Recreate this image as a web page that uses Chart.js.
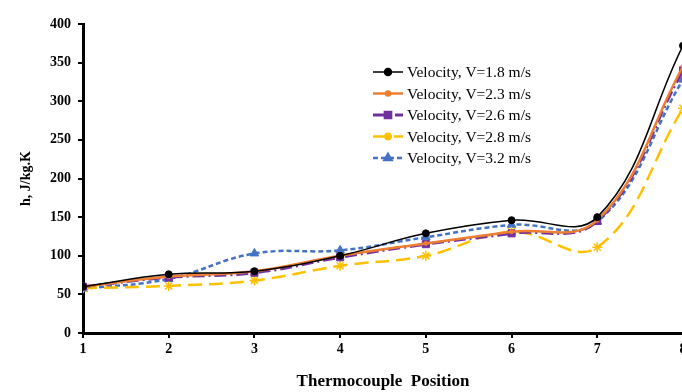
<!DOCTYPE html>
<html>
<head>
<meta charset="utf-8">
<script src="https://cdn.jsdelivr.net/npm/chart.js@4"></script>
<style>
  html, body { margin: 0; padding: 0; background: #fff; overflow: hidden; }
  #wrap { width: 682px; height: 392px; overflow: hidden; }
</style>
</head>
<body>
<div id="wrap"><canvas id="chart" width="690" height="392"></canvas></div>
<script>
const positions = [1, 2, 3, 4, 5, 6, 7, 8];
const seriesNames = ['Velocity, V=1.8 m/s', 'Velocity, V=2.3 m/s', 'Velocity, V=2.6 m/s', 'Velocity, V=2.8 m/s', 'Velocity, V=3.2 m/s'];
const v18 = [60, 76, 80, 100, 129, 146, 150, 372];
const v23 = [60, 73, 80, 100, 116, 131, 146, 345];
const v26 = [60, 72, 78, 98, 115, 129, 145, 340];
const v28 = [58, 61, 68, 87, 100, 131, 111, 291];
const v32 = [57, 70, 103, 107, 124, 140, 144, 328];
const yTicks = [0, 50, 100, 150, 200, 250, 300, 350, 400];

const serif = "'Liberation Serif', 'Times New Roman', serif";

function toXY(vals) {
  return vals.map((v, i) => ({ x: positions[i], y: v }));
}

function makeSet(label, vals, color, width, dash, style, radius) {
  return {
    label: label,
    data: toXY(vals),
    borderColor: color,
    backgroundColor: color,
    borderWidth: width,
    borderDash: dash,
    pointStyle: style,
    pointRadius: radius,
    pointBorderWidth: style === 'star' ? 1.5 : 1,
    pointBorderColor: color,
    pointBackgroundColor: color,
    tension: 0.4,
    fill: false
  };
}

// legend drawn inside the plot, like the original figure
const innerLegend = {
  id: 'innerLegend',
  afterDraw(chart, args, opts) {
    const ctx = chart.ctx;
    ctx.save();
    chart.data.datasets.forEach((ds, i) => {
      const y = opts.top + i * opts.rowGap;
      ctx.strokeStyle = ds.borderColor;
      ctx.lineWidth = ds.borderWidth;
      ctx.setLineDash(ds.borderDash || []);
      ctx.beginPath();
      ctx.moveTo(opts.left, y);
      ctx.lineTo(opts.left + opts.lineLen, y);
      ctx.stroke();
      ctx.setLineDash([]);
      ctx.fillStyle = ds.backgroundColor;
      Chart.helpers.drawPoint(ctx, {
        pointStyle: ds.pointStyle,
        radius: Math.min(ds.pointRadius, 4),
        rotation: 0,
        borderWidth: ds.pointBorderWidth
      }, opts.left + opts.lineLen / 2, y);
      ctx.fillStyle = '#000';
      ctx.font = '15.5px ' + serif;
      ctx.textBaseline = 'middle';
      ctx.fillText(ds.label, opts.left + opts.lineLen + 4, y + 1);
    });
    ctx.restore();
  }
};

new Chart(document.getElementById('chart').getContext('2d'), {
  type: 'line',
  data: {
    datasets: [
      makeSet(seriesNames[0], v18, '#000000', 1.5, [], 'circle', 3.5),
      makeSet(seriesNames[1], v23, '#ED7D31', 2.5, [], 'circle', 2),
      makeSet(seriesNames[2], v26, '#7030A0', 3, [12, 4, 2, 4], 'rect', 5),
      makeSet(seriesNames[3], v28, '#FFC000', 2.5, [14, 7], 'star', 5),
      makeSet(seriesNames[4], v32, '#4472C4', 2.5, [5, 3], 'triangle', 5)
    ]
  },
  options: {
    responsive: false,
    animation: false,
    layout: { padding: { left: 0, right: 7, top: 24, bottom: 0 } },
    plugins: {
      legend: { display: false },
      tooltip: { enabled: false },
      innerLegend: { left: 373, top: 72, rowGap: 21.5, lineLen: 30 }
    },
    scales: {
      x: {
        type: 'linear',
        min: 1,
        max: 8,
        afterFit(scale) { scale.height = 59; },
        ticks: { stepSize: 1, color: '#000', font: { family: serif, size: 14, weight: 'bold' }, padding: 3 },
        grid: { drawOnChartArea: false, drawTicks: true, tickLength: 5, color: '#000', lineWidth: 2 },
        border: { display: true, color: '#000', width: 3 },
        title: { display: true, text: 'Thermocouple  Position', color: '#000', font: { family: serif, size: 17, weight: 'bold' }, padding: { top: -3, bottom: 0 } }
      },
      y: {
        min: 0,
        max: 400,
        afterFit(scale) { scale.width = 83; },
        afterBuildTicks(scale) { scale.ticks = yTicks.map(v => ({ value: v })); },
        ticks: { color: '#000', font: { family: serif, size: 14, weight: 'bold' }, padding: 7 },
        grid: { drawOnChartArea: false, drawTicks: true, tickLength: 5, color: '#000', lineWidth: 2 },
        border: { display: true, color: '#000', width: 3 },
        title: { display: true, text: 'h, J/kg.K', color: '#000', font: { family: serif, size: 14, weight: 'bold' }, padding: { top: 18, bottom: 0 } }
      }
    }
  },
  plugins: [innerLegend]
});
</script>
</body>
</html>
